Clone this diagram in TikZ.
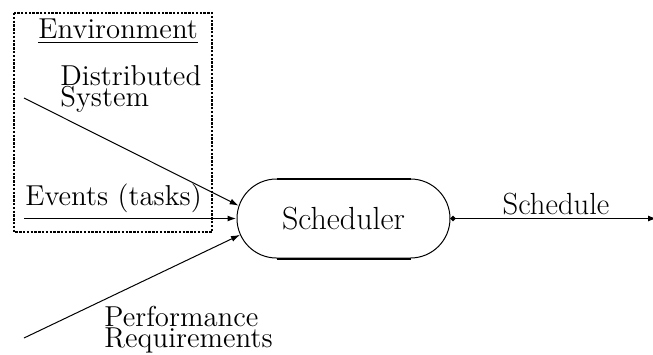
\documentclass[tikz,border=0pt]{standalone}
\usepackage{amsmath}
\usepackage{tikz}
\usetikzlibrary{shapes.misc,arrows.meta,calc}

\newcommand{\lbltext}{\fontsize{14.4pt}{10.5pt}\selectfont\lineskiplimit=-20pt}
\newcommand{\bigtext}{\fontsize{16pt}{18pt}\selectfont}

\begin{document}
\begin{tikzpicture}[x=0.5pt,y=-0.5pt,
        lbl/.style={font=\lbltext, inner sep=0pt, align=left},
        flow/.style={line width=0.5pt, -{Latex[length=4.5pt,width=3pt]}}]
                \useasboundingbox (0,0) rectangle (653,354);
                % environment box
                \draw[line width=0.9pt, dash pattern=on 1.2pt off 0.7pt] (14,13) rectangle (212,232);
                \node[lbl, anchor=base west] (env) at (38,38) {\underline{Environment}};
                \node[lbl, anchor=base west] (dist) at (60,106) {Distributed\\System};
                \node[lbl, anchor=base west] (events) at (25,205) {Events (tasks)};
                \node[lbl, anchor=base west] (perf) at (104,347) {Performance\\Requirements};
                % scheduler
                \node[draw, rounded rectangle, line width=0.5pt, minimum width=106.5pt, minimum height=39.5pt,
                      inner sep=0pt, font=\bigtext] (sched) at (343.5,218.5) {Scheduler};
                \draw[line width=1pt] ($(sched.north)+(-67,0)$) -- ($(sched.north)+(67,0)$);
                \draw[line width=1pt] ($(sched.south)+(-67,0)$) -- ($(sched.south)+(67,0)$);
                % inputs
                \coordinate (dsin) at (24,98);
                \coordinate (evin) at (24,218.5);
                \coordinate (prin) at (24,338);
                \draw[flow] (dsin) -- (sched.173);
                \draw[flow, line width=0.8pt] (evin) -- (sched.west);
                \draw[flow] (prin) -- (sched.189);
                % output
                \coordinate (out) at (657,218.5);
                \draw[line width=0.8pt, {Circle[length=2.5pt]}-{Latex[length=4.5pt,width=3pt]}] (sched.east) -- (out);
                \node[lbl, anchor=base, font=\fontsize{15.3pt}{17pt}\selectfont] (sch) at (556,214) {Schedule};
            \end{tikzpicture}
\end{document}
